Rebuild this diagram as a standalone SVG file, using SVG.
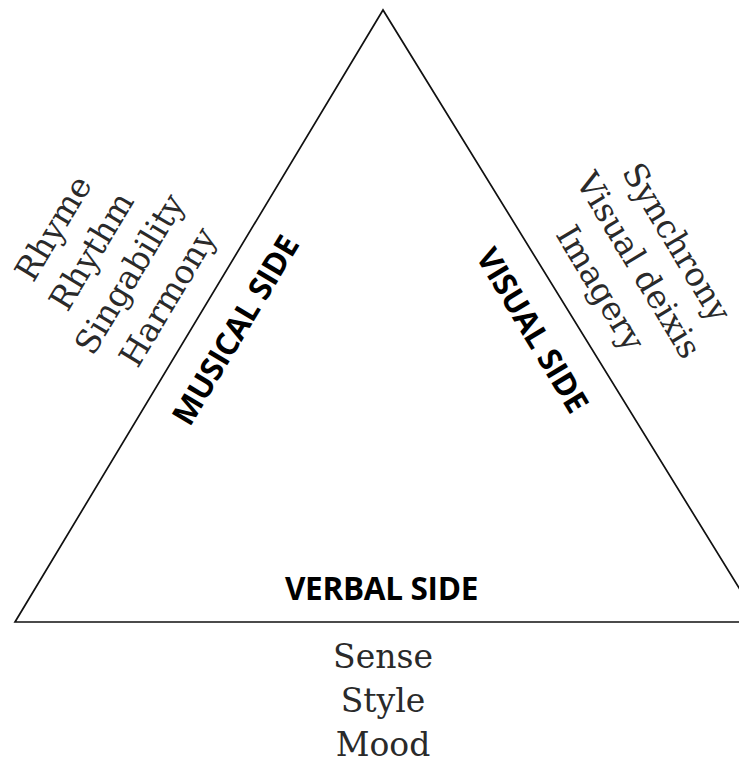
<svg xmlns="http://www.w3.org/2000/svg" width="739" height="763" viewBox="0 0 739 763">
<style>
.side{font-family:"Open Sans","DejaVu Sans",sans-serif;font-weight:bold;font-size:31.5px;fill:#000;text-anchor:middle;letter-spacing:-0.3px}
.lab{font-family:"DejaVu Serif","Liberation Serif",serif;font-size:33px;fill:#2a2a2a;text-anchor:middle}
</style>
<rect width="739" height="763" fill="#fff"/>
<g id="connectors">
<path d="M383,10 L15,622 L760,622 Z" fill="none" stroke="#111" stroke-width="1.7" stroke-linejoin="miter"/>
</g>
<g id="musical-side">
<text class="side" transform="translate(245,336) rotate(-59)">MUSICAL SIDE</text>
</g>
<g id="visual-side">
<text class="side" transform="translate(523,336) rotate(59)">VISUAL SIDE</text>
</g>
<g id="verbal-side">
<text class="side" x="381.5" y="600">VERBAL SIDE</text>
</g>
<g id="musical-labels" transform="translate(63,234) rotate(-59)">
<text class="lab" x="0" y="0">Rhyme</text>
<text class="lab" x="0" y="44.5">Rhythm</text>
<text class="lab" x="0" y="89">Singability</text>
<text class="lab" x="0" y="133.5">Harmony</text>
</g>
<g id="visual-labels" transform="translate(667,248) rotate(59)">
<text class="lab" x="0" y="0">Synchrony</text>
<text class="lab" x="0" y="44.5">Visual deixis</text>
<text class="lab" x="0" y="89">Imagery</text>
</g>
<g id="verbal-labels">
<text class="lab" x="383" y="668">Sense</text>
<text class="lab" x="383" y="712">Style</text>
<text class="lab" x="383" y="756">Mood</text>
</g>
</svg>
